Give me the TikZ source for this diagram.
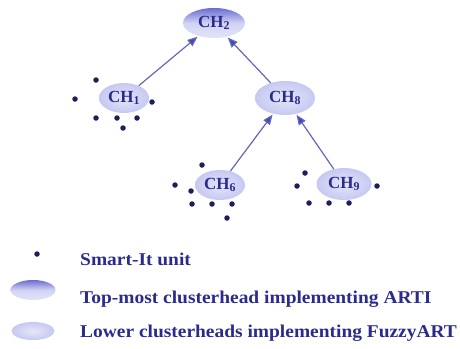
\documentclass[tikz,border=0pt]{standalone}
\usepackage{fontspec}
\setmainfont{Liberation Serif}
\usetikzlibrary{arrows.meta,shapes.geometric}
\definecolor{ink}{HTML}{2B2B8C}
\definecolor{dotc}{HTML}{1E1E5A}
\definecolor{headlow}{HTML}{C6C8F2}
\definecolor{headtop}{HTML}{6A6ED0}
\definecolor{linkc}{HTML}{6466B8}
\definecolor{tipc}{HTML}{4548B8}
\newcommand{\widetext}[1]{\scalebox{1.08}[1]{#1}}
\tikzset{
  lowhead/.style={ellipse, inner sep=0pt, inner color=headlow!45!white, outer color=headlow,
    text=ink, font=\fontsize{17}{17}\selectfont\bfseries},
  tophead/.style={lowhead, top color=headtop, bottom color=headlow!50!white, middle color=headlow!80!white},
  unit/.style={circle, fill=dotc, inner sep=0pt, minimum size=5.5pt},
  link/.style={draw=linkc, line width=1.2pt, -{Triangle[length=10pt,width=8pt,fill=tipc]}, shorten >=1pt},
  legendtext/.style={text=ink, anchor=west, inner sep=0pt, font=\fontsize{18}{18}\selectfont\bfseries},
}
\begin{document}
\begin{tikzpicture}[x=1pt,y=-1pt]
\useasboundingbox (0,0) rectangle (460,348);

% cluster heads
\node[tophead, minimum width=62pt, minimum height=30pt] (ch2) at (214,23) {CH\textsubscript{2}};
\node[lowhead, minimum width=50pt, minimum height=30pt] (ch1) at (124,98) {CH\textsubscript{1}};
\node[lowhead, minimum width=60pt, minimum height=34pt] (ch8) at (285,98) {CH\textsubscript{8}};
\node[lowhead, minimum width=50pt, minimum height=30pt] (ch6) at (220,185) {CH\textsubscript{6}};
\node[lowhead, minimum width=55pt, minimum height=32pt] (ch9) at (344,184) {CH\textsubscript{9}};

% links towards the top-most head
\draw[link] (ch1) -- (ch2);
\draw[link] (ch8) -- (ch2);
\draw[link] (ch6) -- (ch8);
\draw[link] (ch9) -- (ch8);

% Smart-It units around CH1
\node[unit] (a1) at (96,80) {};
\node[unit] (a2) at (75,99) {};
\node[unit] (a3) at (152,102) {};
\node[unit] (a4) at (96,118) {};
\node[unit] (a5) at (117,118) {};
\node[unit] (a6) at (137,118) {};
\node[unit] (a7) at (123,128) {};

% Smart-It units around CH6
\node[unit] (b1) at (202,165) {};
\node[unit] (b2) at (175,185) {};
\node[unit] (b3) at (191,191) {};
\node[unit] (b4) at (192,204) {};
\node[unit] (b5) at (212,204) {};
\node[unit] (b6) at (232,204) {};
\node[unit] (b7) at (227,218) {};

% Smart-It units around CH9
\node[unit] (c1) at (305,173) {};
\node[unit] (c2) at (297,186) {};
\node[unit] (c3) at (377,186) {};
\node[unit] (c4) at (309,203) {};
\node[unit] (c5) at (329,203) {};
\node[unit] (c6) at (349,203) {};

% legend
\node[unit] (k1) at (37,254) {};
\node[tophead, minimum width=45pt, minimum height=20pt] (k2) at (33,290) {};
\node[lowhead, minimum width=43pt, minimum height=18pt] (k3) at (33,331) {};
\node[legendtext] (t1) at (80,259) {\widetext{Smart-It unit}};
\node[legendtext] (t2) at (80,299) {\widetext{Top-most clusterhead implementing ARTI}};
\node[legendtext] (t3) at (80,333) {\widetext{Lower clusterheads implementing FuzzyART}};
\end{tikzpicture}
\end{document}
